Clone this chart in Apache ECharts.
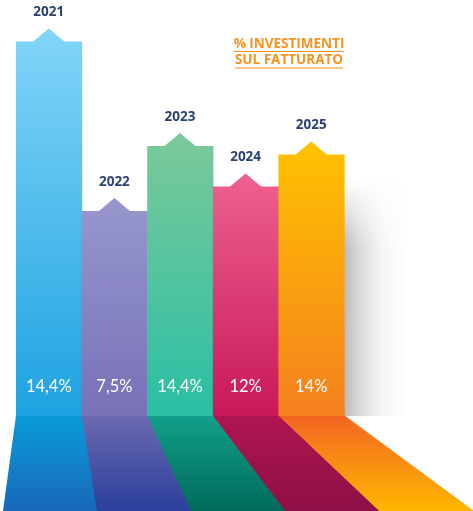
<!DOCTYPE html>
<html><head><meta charset="utf-8">
<script src="https://cdn.jsdelivr.net/npm/echarts@6/dist/echarts.min.js"></script>
<style>html,body{margin:0;padding:0;background:#fff}#c{width:473px;height:511px}</style>
</head><body><div id="c"></div>
<script>
// ---- data ----
const years = ['2021', '2022', '2023', '2024', '2025'];
const percentValues = [14.4, 7.5, 14.4, 12, 14];
// visual bar heights as drawn in the infographic (not proportional to the labels)
const barHeights = [19.9, 10.9, 14.35, 12.2, 13.9];
const titleLines = ['% INVESTIMENTI', 'SUL FATTURATO'];

// ---- styles ----
const barTopColors = ['#82d5f8', '#9797cd', '#7cc999', '#ee6190', '#ffc200'];
const barBottomColors = ['#1ea2e1', '#7771b8', '#2abfa5', '#c8185a', '#f5801f'];
const floorTopColors = ['#0b9bd9', '#6b69b0', '#11a08b', '#b01550', '#f26522'];
const floorBottomColors = ['#1868b8', '#2c3f9b', '#006a5a', '#8e0f46', '#ffb700'];
const yearColor = '#2c4174';
const titleColor = '#f7931e';
const FONT = '"Open Sans", sans-serif';

function fmt(v) { return String(v).replace('.', ',') + '%'; }

const chart = echarts.init(document.getElementById('c'), null, { renderer: 'canvas' });

function renderBar(params, api) {
  const i = params.dataIndex;
  const catIdx = api.value(0);
  const base = api.coord([catIdx, 0]);
  const top = api.coord([catIdx, api.value(1)]);
  const bw = api.size([1, 0])[0];
  const cx = base[0];
  const x0 = cx - bw / 2, x1 = cx + bw / 2;
  const yb = base[1], yt = top[1];
  const peakH = 13, halfBase = 15.5;
  const H = api.getHeight();
  // perspective floor: vanishing point relative to first band
  const firstLeft = api.coord([0, 0])[0] - bw / 2;
  const vpX = firstLeft + 30, vpY = yb - 219;
  const k = (H - vpY) / (yb - vpY);
  const proj = x => vpX + (x - vpX) * k;

  const children = [];
  if (i === years.length - 1) {
    children.push({
      type: 'rect', shape: { x: x1, y: yt + 25, width: 62, height: yb - yt - 25 },
      style: { fill: new echarts.graphic.LinearGradient(0, 0, 1, 0, [
        { offset: 0, color: 'rgba(0,0,0,0.27)' },
        { offset: 0.25, color: 'rgba(0,0,0,0.15)' },
        { offset: 0.6, color: 'rgba(0,0,0,0.04)' },
        { offset: 1, color: 'rgba(0,0,0,0)' }]) }
    });
    children.push({
      type: 'rect', shape: { x: x1, y: yt + 24, width: 64, height: 70 },
      style: { fill: new echarts.graphic.LinearGradient(0, 0, 0, 1, [
        { offset: 0, color: 'rgba(255,255,255,1)' },
        { offset: 1, color: 'rgba(255,255,255,0)' }]) }
    });
  }
  // floor
  children.push({
    type: 'polygon',
    shape: { points: [[x0, yb - 0.5], [x1 + 0.6, yb - 0.5], [proj(x1) + 0.8, H], [proj(x0), H]] },
    style: { fill: new echarts.graphic.LinearGradient(0, 0, 0, 1, [
      { offset: 0, color: floorTopColors[i] },
      { offset: 1, color: floorBottomColors[i] }]) }
  });
  // bar with arrow top
  children.push({
    type: 'polygon',
    shape: { points: [[x0, yb], [x0, yt], [cx - halfBase, yt], [cx, yt - peakH], [cx + halfBase, yt], [x1 + 0.6, yt], [x1 + 0.6, yb]] },
    style: { fill: new echarts.graphic.LinearGradient(0, 0, 0, 1, [
      { offset: 0, color: barTopColors[i] },
      { offset: 1, color: barBottomColors[i] }]) }
  });
  children.push({
    type: 'text', x: cx, y: yt - peakH - 16,
    style: { text: years[i], fill: yearColor, font: 'bold 13.5px ' + FONT, align: 'center', verticalAlign: 'middle' }
  });
  children.push({
    type: 'text', x: cx, y: yb - 29,
    style: { text: fmt(percentValues[i]), fill: '#ffffff', font: '16.5px Lato, sans-serif', align: 'center', verticalAlign: 'middle' }
  });
  return { type: 'group', children };
}

// title with underlines
const mc = document.createElement('canvas').getContext('2d');
const titleFont = 'bold 13.5px ' + FONT;
mc.font = titleFont;
const titleCx = 289;
const titleGraphics = [];
titleLines.forEach((t, j) => {
  const y = 44 + j * 16.5;
  const w = mc.measureText(t).width;
  titleGraphics.push({ type: 'text', x: titleCx, y: y, style: { text: t, fill: titleColor, font: titleFont, align: 'center', verticalAlign: 'middle' } });
  titleGraphics.push({ type: 'line', shape: { x1: titleCx - w / 2, y1: y + 7.5, x2: titleCx + w / 2, y2: y + 7.5 }, style: { stroke: titleColor, lineWidth: 1 } });
});

chart.setOption({
  animation: false,
  grid: { left: 16, right: 129, top: 2, bottom: 95 },
  xAxis: { type: 'category', data: years, show: false, boundaryGap: true },
  yAxis: { type: 'value', min: 0, max: 22, show: false },
  graphic: titleGraphics,
  series: [{
    type: 'custom',
    renderItem: renderBar,
    clip: false,
    data: years.map((y, i) => [i, barHeights[i]])
  }]
});
</script></body></html>
